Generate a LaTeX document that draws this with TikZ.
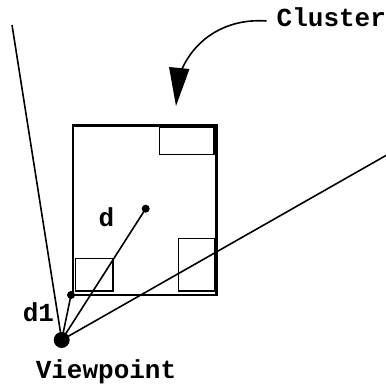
\documentclass[tikz,border=0pt]{standalone}
\usepackage{fontspec}
\setmainfont{Liberation Mono}
\tikzset{
  lbl/.style={font=\bfseries\fontsize{26}{30}\selectfont, inner sep=0pt},
  ray/.style={line width=1.6pt},
  box/.style={draw, line width=1.2pt},
}
\begin{document}
\begin{tikzpicture}[x=1pt,y=-1pt]
\useasboundingbox (0,0) rectangle (386,385);
\clip (0,0) rectangle (386,385);
% cluster box
\draw[line width=2.2pt] (73,125.5) rectangle (216.5,295);
\draw[box] (159.5,127.5) rectangle (214,154.5);
\draw[box] (75.5,258.5) rectangle (113,291);
\draw[box] (178.5,238.5) rectangle (214.5,291);
% points
\coordinate (vp) at (61.7,340);
\coordinate (d) at (145.7,208.7);
\coordinate (d1) at (71,295);
\coordinate (tl) at (12,25);
\coordinate (rt) at (400,147.5);
\draw[ray] (vp) -- (tl);
\draw[ray] (vp) -- (rt);
\draw[ray] (vp) -- (d);
\draw[ray] (vp) -- (d1);
\fill (vp) circle (8);
\fill (d) circle (4);
\fill (d1) circle (4);
% labels
\node[lbl, anchor=base] at (106,378.5) {Viewpoint};
\node[lbl, anchor=base] at (106.5,226.7) {d};
\node[lbl, anchor=base] at (38.5,321.7) {d1};
\node[lbl, anchor=base west] (cl) at (276.5,26.7) {Cluster};
% curved arrow
\draw[line width=1.6pt] (266.5,21) .. controls (225,18) and (195,40) .. (182,69);
\fill (169,67) -- (189.5,69) -- (176,106) -- cycle;
\end{tikzpicture}
\end{document}
